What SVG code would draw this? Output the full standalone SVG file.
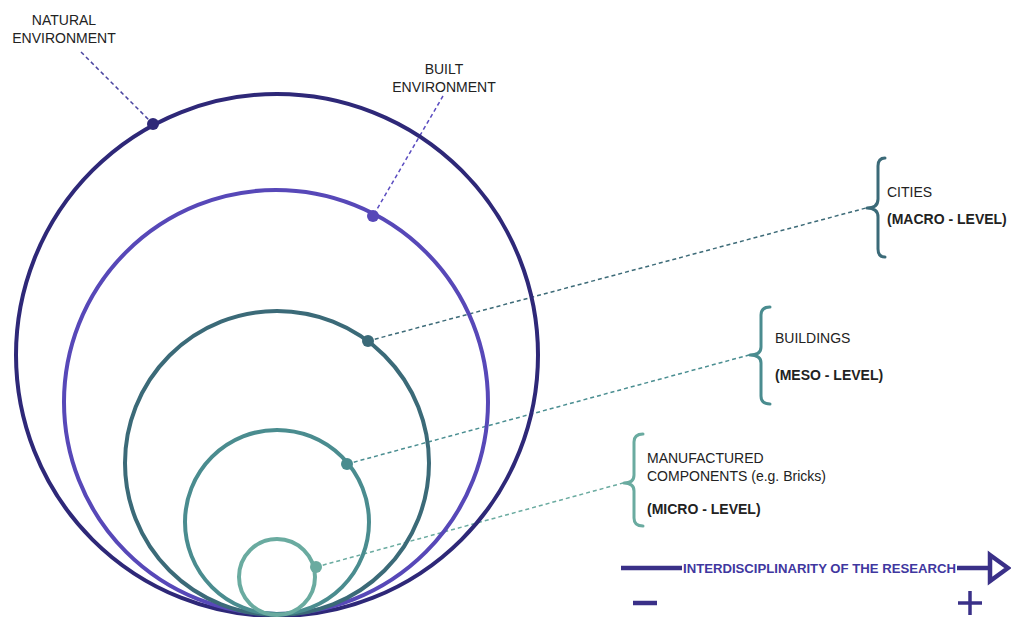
<svg xmlns="http://www.w3.org/2000/svg" width="1011" height="617" viewBox="0 0 1011 617">
  <style>
    .ring { fill: none; stroke-width: 4; }
    .lead { fill: none; stroke-width: 1.5; stroke-dasharray: 4 3; }
    .brace { fill: none; stroke-width: 3; stroke-linecap: round; stroke-linejoin: round; }
    .lbl { font-family: "Liberation Sans", Arial, sans-serif; font-size: 14px; fill: #222; }
    .lbl-b { font-family: "Liberation Sans", Arial, sans-serif; font-size: 14px; font-weight: bold; fill: #222; }
    .axis { fill: none; stroke: #3a3088; stroke-width: 4.5; }
  </style>
  <rect width="1011" height="617" fill="#ffffff"/>

  <!-- leader lines from the rings to their labels -->
  <g id="connectors">
    <line class="lead" x1="81" y1="52" x2="153" y2="124" stroke="#4a44a0"/>
    <line class="lead" x1="443" y1="96" x2="373" y2="216" stroke="#5a4cc0"/>
    <line class="lead" x1="368" y1="341" x2="866" y2="208" stroke="#3d6b78"/>
    <line class="lead" x1="347" y1="464" x2="749" y2="355" stroke="#4a8e91"/>
    <line class="lead" x1="316" y1="567" x2="623" y2="483" stroke="#6aaba0"/>
  </g>

  <g id="natural-environment">
    <circle class="ring" cx="277" cy="355" r="261" stroke="#2e2878"/>
    <circle cx="153" cy="124" r="6" fill="#2e2878"/>
    <text class="lbl" x="64" y="25" text-anchor="middle">NATURAL</text>
    <text class="lbl" x="64" y="43" text-anchor="middle">ENVIRONMENT</text>
  </g>

  <g id="built-environment">
    <circle class="ring" cx="276" cy="402" r="212" stroke="#5748b8"/>
    <circle cx="373" cy="216" r="6" fill="#5748b8"/>
    <text class="lbl" x="444" y="74" text-anchor="middle">BUILT</text>
    <text class="lbl" x="444" y="92" text-anchor="middle">ENVIRONMENT</text>
  </g>

  <g id="cities">
    <circle class="ring" cx="277" cy="463" r="152" stroke="#3b6a78"/>
    <circle cx="368" cy="341" r="6" fill="#3b6a78"/>
    <path class="brace" stroke="#3b6a78" d="M885 158 Q878 158 878 166 L878 199 Q878 208 867 208 Q878 208 878 217 L878 249 Q878 257 885 257"/>
    <text class="lbl" x="887" y="197">CITIES</text>
    <text class="lbl-b" x="887" y="224">(MACRO - LEVEL)</text>
  </g>

  <g id="buildings">
    <circle class="ring" cx="277" cy="522" r="92" stroke="#4a8c8f"/>
    <circle cx="347" cy="464" r="6" fill="#4a8c8f"/>
    <path class="brace" stroke="#4a8c8f" d="M770 307 Q761 307 761 315 L761 347 Q761 355 750 355 Q761 355 761 363 L761 396 Q761 404 770 404"/>
    <text class="lbl" x="775" y="343">BUILDINGS</text>
    <text class="lbl-b" x="775" y="380">(MESO - LEVEL)</text>
  </g>

  <g id="manufactured-components">
    <circle class="ring" cx="277" cy="577" r="38" stroke="#6aaba0"/>
    <circle cx="316" cy="567" r="6" fill="#6aaba0"/>
    <path class="brace" stroke="#6aaba0" d="M643 434 Q634 434 634 442 L634 475 Q634 483 624 483 Q634 483 634 491 L634 518 Q634 526 643 526"/>
    <text class="lbl" x="647" y="463">MANUFACTURED</text>
    <text class="lbl" x="647" y="481">COMPONENTS (e.g. Bricks)</text>
    <text class="lbl-b" x="647" y="514">(MICRO - LEVEL)</text>
  </g>

  <g id="interdisciplinarity-axis">
    <line class="axis" x1="621" y1="568" x2="682" y2="568"/>
    <line class="axis" x1="957" y1="568" x2="990" y2="568"/>
    <path d="M990 555 L1008 568 L990 581 Z" fill="#ffffff" stroke="#3a3088" stroke-width="4.5" stroke-linejoin="miter"/>
    <text x="683" y="572.5" font-family="'Liberation Sans', Arial, sans-serif" font-size="12" font-weight="bold" fill="#3f37a0" textLength="273" lengthAdjust="spacingAndGlyphs">INTERDISCIPLINARITY OF THE RESEARCH</text>
    <line x1="633" y1="603" x2="657" y2="603" stroke="#3a3088" stroke-width="4.5"/>
    <line x1="958" y1="603" x2="982" y2="603" stroke="#3a3088" stroke-width="3.5"/>
    <line x1="970" y1="591" x2="970" y2="615" stroke="#3a3088" stroke-width="3.5"/>
  </g>
</svg>
